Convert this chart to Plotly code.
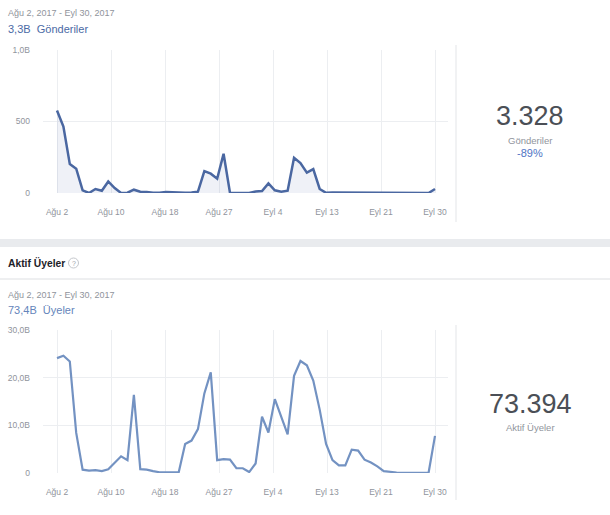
import pandas as pd
import plotly.graph_objects as go

# ---- data ----
dates = pd.date_range("2017-08-02", "2017-09-30", freq="D")
posts = [577, 465, 202, 170, 19, 0, 28, 16, 81, 35,
         0, 2, 23, 9, 7, 1, 1, 7, 5, 1,
         1, 3, 9, 153, 135, 100, 274, 2, 1, 0,
         0, 10, 14, 67, 19, 9, 16, 246, 209, 142,
         167, 28, 1, 3, 3, 2, 4, 4, 4, 3,
         3, 2, 1, 1, 1, 1, 1, 0, 0, 28]
members_k = [24.1, 24.6, 23.4, 8.4, 0.7, 0.5, 0.6, 0.4, 0.8, 2.1,
             3.5, 2.7, 16.4, 0.8, 0.7, 0.4, 0.15, 0.15, 0.15, 0.15,
             6.1, 6.8, 9.2, 16.7, 21.1, 2.7, 2.9, 2.8, 1.0, 1.0,
             0.2, 2.0, 11.8, 8.5, 15.5, 11.6, 8.1, 20.4, 23.5, 22.6,
             19.4, 13.3, 6.1, 2.7, 1.6, 1.6, 4.9, 4.7, 2.8, 2.2,
             1.4, 0.4, 0.2, 0.1, 0.05, 0.05, 0.05, 0.05, 0.05, 7.8]
x_tick_labels = ["Ağu 2", "Ağu 10", "Ağu 18", "Ağu 27", "Eyl 4", "Eyl 13", "Eyl 21", "Eyl 30"]
posts_ticks = [0, 500, 1000]
posts_tick_labels = ["0", "500", "1,0B"]
members_ticks = [0, 10, 20, 30]
members_tick_labels = ["0", "10,0B", "20,0B", "30,0B"]
date_range_text = "Ağu 2, 2017 - Eyl 30, 2017"
posts_total_text = "3,3B  Gönderiler"
members_total_text = "73,4B  Üyeler"
posts_big = "3.328"
posts_label = "Gönderiler"
posts_change = "-89%"
members_big = "73.394"
members_label = "Aktif Üyeler"
section_title = "Aktif Üyeler"

W, H = 610, 515
FONT = "Liberation Sans, Arial, sans-serif"
GRAY = "#90949c"
GRID = "#eceef1"

n_days = len(dates) - 1
step = pd.Timedelta(days=n_days / (len(x_tick_labels) - 1))
tickvals = [dates[0] + i * step for i in range(len(x_tick_labels))]
px_per_day = (435 - 57) / n_days
x_range = [dates[0] - pd.Timedelta(days=14 / px_per_day),
           dates[-1] + pd.Timedelta(days=13 / px_per_day)]

def py(y):
    return 1 - y / H

def px(x):
    return x / W

fig = go.Figure()
fig.add_trace(go.Scatter(x=dates, y=posts, mode="lines", xaxis="x", yaxis="y",
                         line=dict(color="#4a67a1", width=2.5),
                         fill="tozeroy", fillcolor="rgba(75,105,165,0.09)",
                         hoverinfo="skip", showlegend=False))
fig.add_trace(go.Scatter(x=dates, y=members_k, mode="lines", xaxis="x2", yaxis="y2",
                         line=dict(color="#7392c2", width=2.2),
                         hoverinfo="skip", showlegend=False))

xcommon = dict(type="date", range=x_range, tickvals=tickvals, ticktext=x_tick_labels,
               showgrid=True, gridcolor=GRID, gridwidth=1, zeroline=False, showline=False,
               tickfont=dict(family=FONT, size=8.5, color=GRAY), ticks="",
               ticklabelstandoff=12, fixedrange=True, automargin=False)
ycommon = dict(showgrid=True, gridcolor=GRID, gridwidth=1, zeroline=False, showline=False,
               tickfont=dict(family=FONT, size=8.5, color=GRAY), ticks="",
               ticklabelstandoff=12, fixedrange=True, automargin=False)

fig.update_layout(
    width=W, height=H,
    margin=dict(l=0, r=0, t=0, b=0, pad=0, autoexpand=False),
    paper_bgcolor="white", plot_bgcolor="white",
    font=dict(family=FONT),
    xaxis=dict(domain=[px(43), px(448)], anchor="y", **xcommon),
    yaxis=dict(domain=[py(193), py(50)], anchor="x", range=[0, 1000],
               tickvals=posts_ticks, ticktext=posts_tick_labels, **ycommon),
    xaxis2=dict(domain=[px(43), px(448)], anchor="y2", **xcommon),
    yaxis2=dict(domain=[py(473), py(330)], anchor="x2", range=[0, 30],
                tickvals=members_ticks, ticktext=members_tick_labels, **ycommon),
)

shapes = [
    dict(type="line", xref="paper", yref="paper", x0=px(456), x1=px(456), y0=py(45), y1=py(222),
         line=dict(color="#e3e5e8", width=1)),
    dict(type="line", xref="paper", yref="paper", x0=px(456), x1=px(456), y0=py(325), y1=py(500),
         line=dict(color="#e3e5e8", width=1)),
    dict(type="rect", xref="paper", yref="paper", x0=0, x1=1, y0=py(247), y1=py(239),
         fillcolor="#e9ebee", line=dict(width=0)),
    dict(type="line", xref="paper", yref="paper", x0=0, x1=1, y0=py(279), y1=py(279),
         line=dict(color="#dddfe2", width=1)),
    dict(type="circle", xref="paper", yref="paper", x0=px(68.5), x1=px(78.5), y0=py(268), y1=py(258),
         line=dict(color="#c4c7cc", width=1), fillcolor="white"),
]
fig.update_layout(shapes=shapes)

def ann(text, x, y, size, color, xanchor="left", bold=False):
    if bold:
        text = "<b>" + text + "</b>"
    fig.add_annotation(text=text, xref="paper", yref="paper", x=px(x), y=py(y),
                       xanchor=xanchor, yanchor="middle", showarrow=False,
                       font=dict(family=FONT, size=size, color=color))

ann(date_range_text, 6, 13, 9, GRAY)
ann(posts_total_text, 6, 29, 11, "#4b6aa5")
ann(posts_big, 530, 116, 27, "#4b4f56", xanchor="center")
ann(posts_label, 530, 140, 9.5, GRAY, xanchor="center")
ann(posts_change, 530, 153, 11, "#4f74c4", xanchor="center")

ann(section_title, 6, 263, 10.3, "#1d2129", bold=True)
ann("?", 73.5, 263, 7, "#a0a4aa", xanchor="center")
ann(date_range_text, 6, 295, 9, GRAY)
ann(members_total_text, 6, 310, 11, "#6585bb")
ann(members_big, 530, 404, 27, "#4b4f56", xanchor="center")
ann(members_label, 530, 427, 9.5, GRAY, xanchor="center")

fig.write_html("out.html", config={"displayModeBar": False},
               post_script="document.body.style.margin='0';document.body.style.overflow='hidden';")
